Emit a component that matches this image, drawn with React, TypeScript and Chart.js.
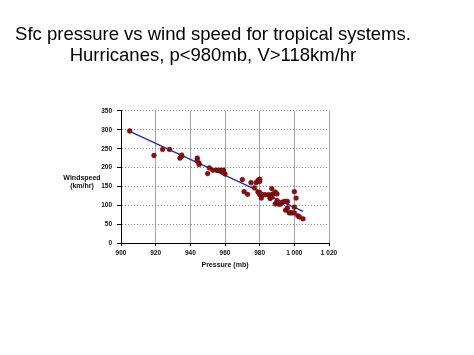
import React, { useEffect, useRef } from "react";
import { Chart, registerables } from "chart.js";

Chart.register(...registerables);

const titleLines = [
  "Sfc pressure vs wind speed for tropical systems.",
  "Hurricanes, p<980mb, V>118km/hr",
];
const xTitle = "Pressure (mb)";
const yTitleLines = ["Windspeed", "(km/hr)"];

const pressure = [
  905, 919, 924, 928, 934, 935, 935, 944, 944, 945, 945, 950, 951,
  953, 955, 956, 957, 958, 959, 959, 960, 970, 971, 973, 975, 977,
  978, 979, 980, 980, 979, 980, 980, 981, 981, 983, 985, 986, 986,
  987, 987, 987, 988, 989, 989, 990, 990, 991, 992, 993, 994, 995,
  995, 996, 996, 997, 998, 999, 1000, 1000, 1000, 1001, 1002, 1003, 1005,
];
const windspeed = [
  297, 232, 248, 248, 225, 230, 233, 225, 218, 212, 208, 184, 199,
  193, 193, 192, 193, 192, 193, 187, 183, 168, 136, 129, 160, 146,
  160, 166, 169, 163, 135, 128, 134, 124, 119, 128, 128, 124, 118,
  128, 144, 121, 130, 104, 135, 130, 112, 103, 103, 107, 110, 110,
  87, 110, 93, 80, 80, 80, 95, 136, 80, 119, 72, 69, 64,
];

const trendPressure = [905, 1005];
const trendWindspeed = [296, 84];

const xTicks = [900, 920, 940, 960, 980, 1000, 1020];
const yTicks = [0, 50, 100, 150, 200, 250, 300, 350];

function fmt(v: number): string {
  if (v >= 1000) {
    return Math.floor(v / 1000) + " " + String(v % 1000).padStart(3, "0");
  }
  return String(v);
}

const FONT = '"Liberation Sans", Arial, Helvetica, sans-serif';

const yTitlePlugin = {
  id: "yTitleHorizontal",
  afterDraw(chart: any) {
    const { ctx, chartArea } = chart;
    ctx.save();
    ctx.font = `bold 7px ${FONT}`;
    ctx.fillStyle = "#111";
    ctx.textAlign = "center";
    ctx.textBaseline = "middle";
    const cx = chartArea.left - 39;
    const cy = (chartArea.top + chartArea.bottom) / 2;
    ctx.fillText(yTitleLines[0], cx, cy + 1);
    ctx.fillText(yTitleLines[1], cx, cy + 9);
    ctx.restore();
  },
};

export default function App() {
  const ref = useRef<HTMLCanvasElement | null>(null);

  useEffect(() => {
    if (!ref.current) return;
    const points = pressure.map((p, i) => ({ x: p, y: windspeed[i] }));
    const trend = trendPressure.map((p, i) => ({ x: p, y: trendWindspeed[i] }));
    const chart = new Chart(ref.current, {
      type: "scatter",
      data: {
        datasets: [
          {
            label: "Hurricanes",
            data: points,
            backgroundColor: "#8a0f0f",
            borderColor: "#5e0606",
            borderWidth: 0.5,
            pointRadius: 2.4,
            order: 1,
          },
          {
            type: "line",
            label: "Fit",
            data: trend,
            borderColor: "#2b2ba6",
            borderWidth: 1.4,
            pointRadius: 0,
            fill: false,
            order: 2,
          } as any,
        ],
      },
      options: {
        responsive: false,
        animation: false,
        devicePixelRatio: 1,
        layout: { padding: 0 },
        plugins: {
          legend: { display: false },
          tooltip: { enabled: false },
          title: {
            display: true,
            text: titleLines,
            color: "#000",
            font: { family: FONT, size: 18.5, weight: "normal", lineHeight: 1.135 },
            padding: { top: 24, bottom: 45 },
          },
        },
        scales: {
          x: {
            type: "linear",
            min: 900,
            max: 1020,
            afterBuildTicks: (scale: any) => {
              scale.ticks = xTicks.map((v) => ({ value: v }));
            },
            afterFit: (scale: any) => {
              scale.height = 112;
            },
            ticks: {
              callback: (v: any) => fmt(Number(v)),
              font: { family: FONT, size: 6.5, weight: "bold" },
              color: "#111",
              padding: 3,
              maxRotation: 0,
            },
            grid: {
              color: "#a3a3a3",
              lineWidth: 1,
              tickLength: 3,
              tickColor: "#000",
            },
            border: { display: true, color: "#000", width: 1 },
            title: {
              display: true,
              text: xTitle,
              color: "#111",
              font: { family: FONT, size: 7, weight: "bold" },
              padding: { top: 0, bottom: 86 },
            },
          },
          y: {
            type: "linear",
            min: 0,
            max: 350,
            afterBuildTicks: (scale: any) => {
              scale.ticks = yTicks.map((v) => ({ value: v }));
            },
            afterFit: (scale: any) => {
              scale.width = 121;
            },
            ticks: {
              callback: (v: any) => fmt(Number(v)),
              font: { family: FONT, size: 6.5, weight: "bold" },
              color: "#111",
              padding: 5,
            },
            grid: {
              color: "#8a8a8a",
              lineWidth: 1,
              tickLength: 4,
              tickColor: "#000",
              tickBorderDash: [],
            },
            border: { display: true, color: "#000", width: 1, dash: [1, 2] },
          },
          yRightSpace: {
            type: "linear",
            position: "right",
            min: 0,
            max: 350,
            afterFit: (scale: any) => {
              scale.width = 97;
            },
            ticks: { display: false },
            grid: { display: false, drawOnChartArea: false },
            border: { display: false },
          },
        },
      },
      plugins: [yTitlePlugin],
    });
    return () => chart.destroy();
  }, []);

  return (
    <div style={{ position: "absolute", left: 0, top: 0, width: 426, height: 355 }}>
      <canvas ref={ref} width={426} height={355} style={{ display: "block" }} />
    </div>
  );
}
